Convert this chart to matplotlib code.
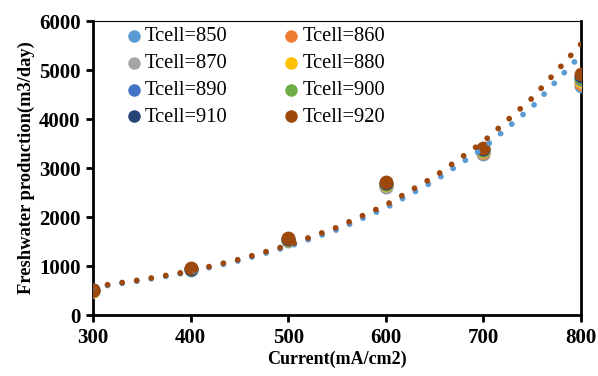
import numpy as np
import matplotlib
matplotlib.use("Agg")
import matplotlib.pyplot as plt

plt.rcParams['font.family'] = ['Liberation Serif', 'DejaVu Serif']

# data
current = [300, 400, 500, 600, 700, 800]
labels = ['Tcell=850', 'Tcell=860', 'Tcell=870', 'Tcell=880',
          'Tcell=890', 'Tcell=900', 'Tcell=910', 'Tcell=920']
colors = ['#5B9BD5', '#ED7D31', '#A5A5A5', '#FFC000',
          '#4472C4', '#70AD47', '#264478', '#9E480E']
t850 = [490, 925, 1515, 2610, 3290, 4680]
t860 = [493, 929, 1522, 2624, 3307, 4713]
t870 = [496, 933, 1529, 2638, 3324, 4746]
t880 = [499, 937, 1536, 2652, 3341, 4779]
t890 = [502, 941, 1543, 2666, 3358, 4812]
t900 = [505, 945, 1550, 2680, 3375, 4845]
t910 = [508, 949, 1557, 2694, 3392, 4878]
t920 = [511, 953, 1565, 2710, 3410, 4910]
series = [t850, t860, t870, t880, t890, t900, t910, t920]

# dotted trend lines
trend_x = [300, 350, 400, 450, 500, 550, 600, 650, 700, 750, 800]
trend850 = [560, 705, 880, 1110, 1395, 1740, 2185, 2740, 3405, 4250, 5310]
trend920 = [575, 721, 896, 1136, 1424, 1789, 2245, 2826, 3537, 4427, 5530]

fig = plt.figure(figsize=(5.98, 3.76), dpi=100)
ax = fig.add_axes([0.1555, 0.1622, 0.8161, 0.7819])

handles = []
for ys, c, lab in zip(series, colors, labels):
    h = ax.scatter(current, ys, s=100, color=c, label=lab, zorder=3, linewidths=0)
    handles.append(h)

lw = 4.2
ax.plot(trend_x, trend850, color=colors[0], lw=lw, linestyle=(0, (0.001, 10.6 / lw)),
        dash_capstyle='round', zorder=4)
ax.plot(trend_x, trend920, color=colors[7], lw=lw, linestyle=(0, (0.001, 10.6 / lw)),
        dash_capstyle='round', zorder=5)

ax.set_xlim(300, 800)
ax.set_ylim(0, 6000)
ax.set_xticks(range(300, 801, 100))
ax.set_yticks(range(0, 6001, 1000))
ax.tick_params(axis='both', direction='out', length=5, width=2, labelsize=15, pad=4)
for lab in ax.get_xticklabels() + ax.get_yticklabels():
    lab.set_fontweight('bold')
for s in ['left', 'bottom', 'right']:
    ax.spines[s].set_linewidth(2)
ax.spines['top'].set_linewidth(0.8)

ax.set_xlabel('Current(mA/cm2)', fontsize=13, fontweight='bold', labelpad=2)
ax.set_ylabel('Freshwater production(m3/day)', fontsize=13.3, fontweight='bold', labelpad=3)

# row-wise legend order like the original
order = [0, 2, 4, 6, 1, 3, 5, 7]
leg = ax.legend([handles[i] for i in order], [labels[i] for i in order],
                ncol=2, loc='upper left', bbox_to_anchor=(0.039, 1.025), frameon=False,
                fontsize=14.8, markerscale=0.9, handlelength=0.8, handletextpad=0.15,
                columnspacing=2.7, labelspacing=0.36, borderaxespad=0.25)

fig.savefig('out.png', dpi=100)
